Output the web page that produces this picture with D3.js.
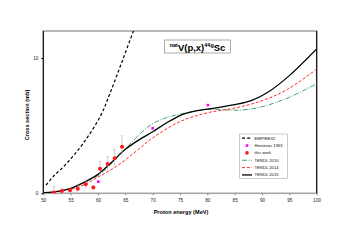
<!DOCTYPE html>
<html>
<head>
<meta charset="utf-8">
<script src="https://d3js.org/d3.v7.min.js"></script>
<style>
    body { margin: 0; background: white; }
    text { font-family: "Liberation Sans", Arial, sans-serif; }
</style>
</head>
<body>
<svg id="chart" width="351" height="248"></svg>
<script>
    // ---- data ----
    const xTicks = [50, 55, 60, 65, 70, 75, 80, 85, 90, 95, 100];
    const yTicks = [0, 10];

    const thisWorkE   = [51.96, 53.4, 54.9, 56.3, 57.75, 59.15, 60.37, 61.77, 63.05, 64.4];
    const thisWorkXS  = [0.05, 0.17, 0.22, 0.34, 0.67, 0.42, 1.82, 2.17, 2.59, 3.45];
    const thisWorkErr = [0.45, 0.2, 0.2, 0.3, 0.3, 0.15, 0.55, 0.55, 0.65, 0.8];

    const hontzeasE  = [60.07, 70.0, 80.1];
    const hontzeasXS = [0.86, 4.81, 6.52];

    const empireE  = [50.5, 51.8, 54.3, 57.3, 60.4, 62.2, 64.3, 66.5, 67.5];
    const empireXS = [0.61, 1.23, 2.22, 3.7, 5.67, 7.4, 9.63, 12.0, 13.0];

    const t2015E  = [50, 52, 54.5, 57, 60, 62.5, 65, 67.5, 70, 72.5, 75, 77.5, 80, 85, 88, 91, 95, 100];
    const t2015XS = [0.04, 0.1, 0.3, 0.72, 1.4, 2.3, 3.25, 3.95, 4.55, 5.2, 5.75, 6.05, 6.22, 6.55, 6.85, 7.45, 8.7, 10.67];

    const t2014E  = [50, 52, 54.5, 57.3, 60, 63.4, 67.7, 70, 75, 80, 85, 90, 94.5, 100];
    const t2014XS = [0.04, 0.1, 0.25, 0.6, 1.2, 2.0, 3.35, 4.1, 5.3, 5.95, 6.3, 6.85, 7.65, 9.18];

    const t2010E  = [59.5, 62, 64.5, 67.7, 70, 72.6, 75, 80, 86, 90, 95, 100];
    const t2010XS = [1.15, 2.0, 3.05, 4.4, 5.15, 5.6, 5.85, 6.2, 6.15, 6.4, 7.1, 8.1];

    // ---- layout ----
    const svg = d3.select("#chart");
    const m = {left: 43.3, right: 316.7, top: 31, bottom: 193.3};

    const x = d3.scaleLinear().domain([50, 100]).range([m.left, m.right]);
    const y = d3.scaleLinear().domain([0, 12]).range([m.bottom, m.top]);

    svg.append("defs").append("clipPath").attr("id", "clip")
        .append("rect")
        .attr("x", m.left).attr("y", m.top)
        .attr("width", m.right - m.left).attr("height", m.bottom - m.top);

    // frame
    svg.append("rect")
        .attr("x", m.left).attr("y", m.top)
        .attr("width", m.right - m.left).attr("height", m.bottom - m.top)
        .attr("fill", "none").attr("stroke", "#a6a6a6").attr("stroke-width", 1.6);
    svg.append("line")
        .attr("x1", m.left).attr("x2", m.left).attr("y1", m.top).attr("y2", m.bottom)
        .attr("stroke", "#000").attr("stroke-width", 1);
    svg.append("line")
        .attr("x1", m.right).attr("x2", m.right).attr("y1", m.top).attr("y2", m.bottom)
        .attr("stroke", "#000").attr("stroke-width", 1);

    // axes
    const xAxis = svg.append("g")
        .attr("transform", `translate(0,${m.bottom})`)
        .call(d3.axisBottom(x).tickValues(xTicks).tickSize(2).tickFormat(d3.format("d")));
    xAxis.select(".domain").remove();
    xAxis.selectAll("line").attr("stroke", "#888");
    xAxis.selectAll("text").attr("font-size", 4.6).attr("fill", "#222").attr("dy", "0.9em");

    const yAxis = svg.append("g")
        .attr("transform", `translate(${m.left},0)`)
        .call(d3.axisLeft(y).tickValues(yTicks).tickSize(2).tickFormat(d3.format("d")));
    yAxis.select(".domain").remove();
    yAxis.selectAll("text").attr("font-size", 4.6).attr("fill", "#222");

    svg.append("text")
        .attr("x", 181).attr("y", 214)
        .attr("text-anchor", "middle")
        .attr("font-size", 5.6).attr("font-weight", "bold")
        .text("Proton energy (MeV)");
    svg.append("text")
        .attr("transform", "translate(29,115) rotate(-90)")
        .attr("text-anchor", "middle")
        .attr("font-size", 5.6).attr("font-weight", "bold")
        .text("Cross section (mb)");

    // curves
    const plot = svg.append("g").attr("clip-path", "url(#clip)");
    const line = d3.line().x(d => x(d[0])).y(d => y(d[1])).curve(d3.curveCatmullRom.alpha(0.5));

    const curves = [
        {name: "EMPIRE32",   e: empireE, v: empireXS, color: "#000", width: 1.2, dash: "3,2.2"},
        {name: "TENDL 2010", e: t2010E,  v: t2010XS,  color: "#2e9a5e", width: 0.9, dash: "5,1.5,1,1.5"},
        {name: "TENDL 2014", e: t2014E,  v: t2014XS,  color: "#ff2a2a", width: 1.0, dash: "3,1.8"},
        {name: "TENDL 2015", e: t2015E,  v: t2015XS,  color: "#000", width: 1.3, dash: null}
    ];
    curves.forEach(c => {
        plot.append("path")
            .datum(d3.zip(c.e, c.v))
            .attr("d", line)
            .attr("fill", "none")
            .attr("stroke", c.color)
            .attr("stroke-width", c.width)
            .attr("stroke-dasharray", c.dash);
    });

    // this work with error bars
    const work = d3.zip(thisWorkE, thisWorkXS, thisWorkErr);
    plot.selectAll("line.err")
        .data(work).join("line")
        .attr("x1", d => x(d[0])).attr("x2", d => x(d[0]))
        .attr("y1", d => y(d[1] + d[2])).attr("y2", d => y(Math.max(0, d[1] - d[2])))
        .attr("stroke", "#b0b0b0").attr("stroke-width", 0.6);
    plot.selectAll("line.cap")
        .data(work).join("line")
        .attr("x1", d => x(d[0]) - 1.2).attr("x2", d => x(d[0]) + 1.2)
        .attr("y1", d => y(d[1] + d[2])).attr("y2", d => y(d[1] + d[2]))
        .attr("stroke", "#b0b0b0").attr("stroke-width", 0.6);
    plot.selectAll("circle.work")
        .data(work).join("circle")
        .attr("cx", d => x(d[0])).attr("cy", d => y(d[1]))
        .attr("r", 2).attr("fill", "#ff1a1a");

    // Hontzeas 1963
    plot.selectAll("rect.hon")
        .data(d3.zip(hontzeasE, hontzeasXS)).join("rect")
        .attr("x", d => x(d[0]) - 1.3).attr("y", d => y(d[1]) - 1.3)
        .attr("width", 2.6).attr("height", 2.6)
        .attr("fill", "#ff00ff");

    // title box
    svg.append("rect")
        .attr("x", 164.5).attr("y", 40).attr("width", 66).attr("height", 13)
        .attr("fill", "white").attr("stroke", "#999").attr("stroke-width", 0.8);
    const title = svg.append("text")
        .attr("x", 197.5).attr("y", 50.5)
        .attr("text-anchor", "middle")
        .attr("font-weight", "bold").attr("font-size", 9.5);
    title.append("tspan").attr("font-size", 5.5).attr("dy", -3.2).text("nat");
    title.append("tspan").attr("dy", 3.2).text("V(p,x)");
    title.append("tspan").attr("font-size", 5.5).attr("dy", -3.2).text("44g");
    title.append("tspan").attr("dy", 3.2).text("Sc");

    // legend
    svg.append("rect")
        .attr("x", 239.5).attr("y", 134).attr("width", 48).attr("height", 44.5)
        .attr("fill", "white").attr("stroke", "#aaa").attr("stroke-width", 0.6);
    const legendItems = [
        {label: "EMPIRE32",      type: "line",   c: curves[0]},
        {label: "Hontzeas 1963", type: "square"},
        {label: "this work",     type: "circle"},
        {label: "TENDL 2010",    type: "line",   c: curves[1]},
        {label: "TENDL 2014",    type: "line",   c: curves[2]},
        {label: "TENDL 2015",    type: "line",   c: curves[3]}
    ];
    const leg = svg.append("g");
    legendItems.forEach((d, i) => {
        const ly = 138.2 + i * 7.35;
        if (d.type === "line") {
            leg.append("line")
                .attr("x1", 242).attr("x2", 252).attr("y1", ly).attr("y2", ly)
                .attr("stroke", d.c.color).attr("stroke-width", d.c.width)
                .attr("stroke-dasharray", d.c.dash);
        } else if (d.type === "square") {
            leg.append("rect").attr("x", 245.7).attr("y", ly - 1.3)
                .attr("width", 2.6).attr("height", 2.6).attr("fill", "#ff00ff");
        } else {
            leg.append("circle").attr("cx", 247).attr("cy", ly).attr("r", 1.8).attr("fill", "#ff1a1a");
        }
        leg.append("text")
            .attr("x", 254.5).attr("y", ly + 1.5)
            .attr("font-size", 4.2).attr("fill", "#111")
            .text(d.label);
    });
</script>
</body>
</html>
